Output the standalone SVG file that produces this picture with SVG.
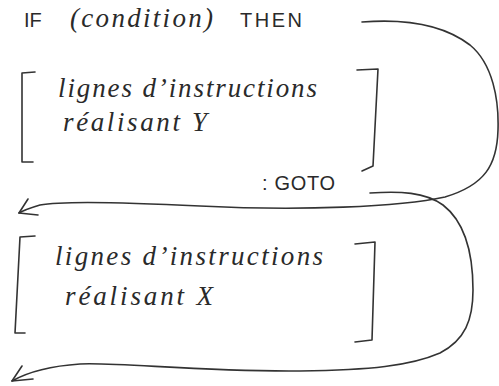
<svg xmlns="http://www.w3.org/2000/svg" width="499" height="386" viewBox="0 0 499 386">
<style>
.ink{fill:none;stroke:#333;stroke-width:1.6;stroke-linecap:round;stroke-linejoin:round}
.hand{font-family:"Liberation Serif","DejaVu Serif",serif;font-style:italic;font-size:27px;fill:#2a2a2a}
.caps{font-family:"Liberation Sans","DejaVu Sans",sans-serif;font-size:20px;fill:#2a2a2a}
</style>
<rect width="499" height="386" fill="#fff"/>
<g id="condition">
<text class="caps" x="24" y="27">IF</text>
<text class="hand" x="70" y="27" font-size="24" textLength="143" lengthAdjust="spacing">(condition)</text>
<text class="caps" x="240" y="27" textLength="62" lengthAdjust="spacing">THEN</text>
</g>
<g id="blockY">
<path class="ink" d="M35,72 L22,73 L22,162 L33,162"/>
<path class="ink" d="M357,70 L378,69 L373,166 L362,171"/>
<text class="hand" x="58" y="97" textLength="259" lengthAdjust="spacing">lignes d’instructions</text>
<text class="hand" x="63" y="131" textLength="144" lengthAdjust="spacing">réalisant Y</text>
</g>
<g id="goto">
<text class="caps" x="262" y="190" font-size="17" textLength="73" lengthAdjust="spacing">: GOTO</text>
</g>
<g id="blockX">
<path class="ink" d="M35,236 L20,237 L15,333 L25,333"/>
<path class="ink" d="M355,244 L375,242 L372,340 L355,342"/>
<text class="hand" x="55" y="265" textLength="268" lengthAdjust="spacing">lignes d’instructions</text>
<text class="hand" x="65" y="305" textLength="148" lengthAdjust="spacing">réalisant X</text>
</g>
<g id="connectors">
<path class="ink" d="M362,22 C400,19 440,22 470,45 C493,64 499,100 498,130 C497,165 485,185 445,197 C400,207 300,211 200,206 C120,202 60,201 40,205 C30,208 24,210 19,213"/>
<path class="ink" d="M28,199 L19,213 L38,215"/>
<path class="ink" d="M370,193 C400,191 425,192 443,205 C465,222 473,255 473,290 C473,320 465,340 440,353 C410,366 370,370 300,371 C200,372 120,362 80,364 C50,366 28,372 12,381"/>
<path class="ink" d="M22,366 L12,381 L33,379"/>
</g>
</svg>
